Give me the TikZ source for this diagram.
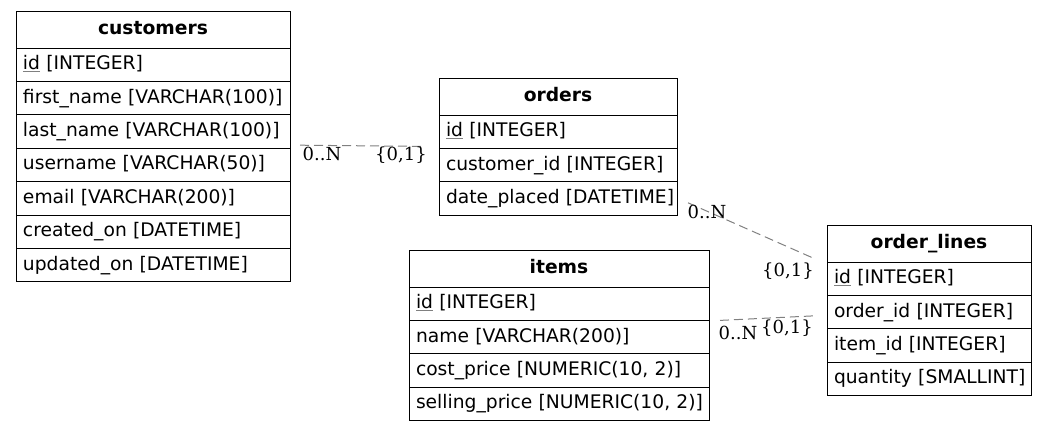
\documentclass[tikz,border=0pt]{standalone}
\usepackage{fontspec}
\setmainfont{DejaVu Sans}
\newfontfamily\lblfont{DejaVu Serif}
\newcommand\pk[1]{{\color{gray}\underline{\color{black}#1}}}
\begin{document}
\begin{tikzpicture}[x=1pt,y=-1pt,
  tbl/.style={draw=black, line width=1pt, inner xsep=7pt, inner ysep=0pt, outer sep=0pt,
    anchor=north west, text height=14pt, text depth=4pt},
  hdr/.style={tbl, minimum height=37pt, align=center, font=\fontsize{18.7}{22}\selectfont\bfseries},
  fld/.style={tbl, minimum height=33.4pt, align=left, font=\fontsize{18.7}{22}\selectfont},
  rel/.style={draw=gray, line width=1pt, dash pattern=on 9pt off 5pt},
  lbl/.style={font=\lblfont\fontsize{18}{20}\selectfont, inner sep=0pt, anchor=base}]
\useasboundingbox (0,0) rectangle (1047,431);
% customers
\node[hdr, text width=260pt] (cust) at (16,11) {customers};
\node[fld, text width=260pt] (cust1) at (cust.south west) {\mbox{\pk{id} [INTEGER]}};
\node[fld, text width=260pt] (cust2) at (cust1.south west) {\mbox{first\_name [VARCHAR(100)]}};
\node[fld, text width=260pt] (cust3) at (cust2.south west) {\mbox{last\_name [VARCHAR(100)]}};
\node[fld, text width=260pt] (cust4) at (cust3.south west) {\mbox{username [VARCHAR(50)]}};
\node[fld, text width=260pt] (cust5) at (cust4.south west) {\mbox{email [VARCHAR(200)]}};
\node[fld, text width=260pt] (cust6) at (cust5.south west) {\mbox{created\_on [DATETIME]}};
\node[fld, text width=260pt] (cust7) at (cust6.south west) {\mbox{updated\_on [DATETIME]}};
% orders
\node[hdr, text width=224pt] (ord) at (439,78) {orders};
\node[fld, text width=224pt] (ord1) at (ord.south west) {\mbox{\pk{id} [INTEGER]}};
\node[fld, text width=224pt] (ord2) at (ord1.south west) {\mbox{customer\_id [INTEGER]}};
\node[fld, text width=224pt] (ord3) at (ord2.south west) {\mbox{date\_placed [DATETIME]}};
% items
\node[hdr, text width=286pt] (item) at (409,250) {items};
\node[fld, text width=286pt] (item1) at (item.south west) {\mbox{\pk{id} [INTEGER]}};
\node[fld, text width=286pt] (item2) at (item1.south west) {\mbox{name [VARCHAR(200)]}};
\node[fld, text width=286pt] (item3) at (item2.south west) {\mbox{cost\_price [NUMERIC(10, 2)]}};
\node[fld, text width=286pt] (item4) at (item3.south west) {\mbox{selling\_price [NUMERIC(10, 2)]}};
% order_lines
\node[hdr, text width=190pt] (ol) at (827,225) {order\_lines};
\node[fld, text width=190pt] (ol1) at (ol.south west) {\mbox{\pk{id} [INTEGER]}};
\node[fld, text width=190pt] (ol2) at (ol1.south west) {\mbox{order\_id [INTEGER]}};
\node[fld, text width=190pt] (ol3) at (ol2.south west) {\mbox{item\_id [INTEGER]}};
\node[fld, text width=190pt] (ol4) at (ol3.south west) {\mbox{quantity [SMALLINT]}};
% relations
\draw[rel] ([shift={(10,-3)}]cust3.south east) -- ([shift={(-14,-2)}]ord1.south west);
\draw[rel] ([shift={(11,21)}]ord3.north east) -- ([shift={(-14,-4)}]ol.south west);
\draw[rel] ([shift={(11,0)}]item1.south east) -- ([shift={(-12,-13)}]ol2.south west);
% labels
\node[lbl] (l1a) at (322,160) {0..N};
\node[lbl] (l1b) at (401,160) {\{0,1\}};
\node[lbl] (l2a) at (707,218) {0..N};
\node[lbl] (l2b) at (788,276) {\{0,1\}};
\node[lbl] (l3a) at (738,339) {0..N};
\node[lbl] (l3b) at (787,333) {\{0,1\}};
\end{tikzpicture}
\end{document}
